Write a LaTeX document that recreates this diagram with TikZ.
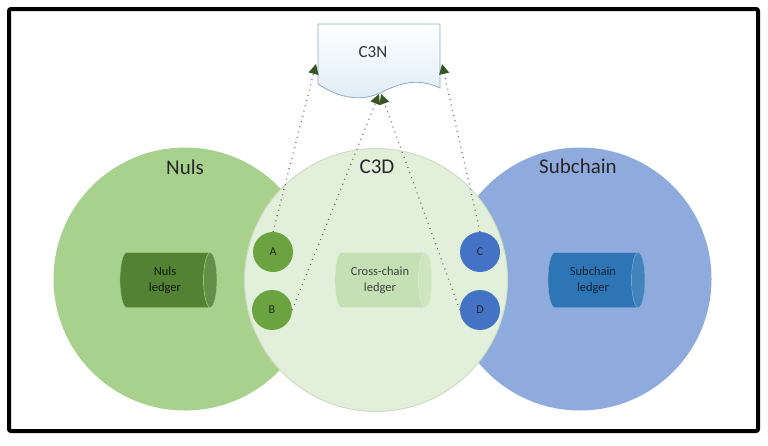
\documentclass[tikz,border=0pt]{standalone}
\usepackage{fontspec}
\setmainfont{Carlito}
\usetikzlibrary{arrows.meta,positioning,shapes.geometric}
\definecolor{nulsgreen}{HTML}{A9D18E}
\definecolor{crossgreen}{HTML}{E2EFDA}
\definecolor{crossedge}{HTML}{CFDDC4}
\definecolor{subblue}{HTML}{8FAADC}
\definecolor{ledgergreen}{HTML}{548235}
\definecolor{ledgerlight}{HTML}{C5E0B4}
\definecolor{ledgerblue}{HTML}{2E75B6}
\definecolor{portgreen}{HTML}{6AA33F}
\definecolor{portblue}{HTML}{4472C4}
\definecolor{tipgreen}{HTML}{375623}
\definecolor{docblue}{HTML}{DDEBF7}
\definecolor{docedge}{HTML}{8EAAC4}
\tikzset{
  chain/.style={circle,minimum size=263pt,inner sep=0pt},
  chainlabel/.style={font=\fontsize{21}{24}\selectfont,text=black!85},
  ledger/.style={cylinder,shape border rotate=0,aspect=0.5,minimum width=55pt,minimum height=97pt,
    cylinder uses custom fill,align=center,inner sep=0pt,font=\fontsize{12.5}{16}\selectfont},
  port/.style={circle,minimum size=40pt,inner sep=0pt,font=\fontsize{12}{13}\selectfont,text=black!85},
  link/.style={gray!85!black,line width=1.3pt,dash pattern=on 0.9pt off 4.5pt,
    -{Triangle[length=10pt,width=10pt,color=tipgreen]}}
}
\begin{document}
\begin{tikzpicture}[x=1pt,y=-1pt]
  \useasboundingbox (0,0) rectangle (768,445);
  \draw[line width=4pt,rounded corners=2pt] (9,9) rectangle (758,431);
  \node[chain,fill=nulsgreen] (nuls) at (185,279) {};
  \node[chain,fill=subblue] (sub) at (580,279) {};
  \node[chain,fill=crossgreen,draw=crossedge,line width=1pt] (c3d) at (376,280) {};
  \node[chainlabel] (nulslab) at (185,167) {Nuls};
  \node[chainlabel] (c3dlab) at (377,167) {C3D};
  \node[chainlabel] (sublab) at (578,166) {Subchain};
  \node[ledger,cylinder body fill=ledgergreen,cylinder end fill=ledgergreen!90!white,draw=nulsgreen,
    text=black!80!ledgergreen] (nulsledger) at (165,280) {Nuls\\ledger};
  \node[ledger,cylinder body fill=ledgerlight,cylinder end fill=ledgerlight!85!white,draw=crossgreen,
    text=black!75] (crossledger) at (380,280) {Cross-chain\\ledger};
  \node[ledger,cylinder body fill=ledgerblue,cylinder end fill=ledgerblue!90!white,draw=subblue,
    text=black!70!ledgerblue] (subledger) at (593,280) {Subchain\\ledger};
  \foreach \n/\x/\y/\c in {A/273/252/portgreen,B/272/310/portgreen,C/480/252/portblue,D/480/310/portblue}
    \node[port,fill=\c] (\n) at (\x,\y) {\n};
  \draw[docedge,line width=0.8pt,top color=white,bottom color=docblue]
    (318,24) -- (440,24) -- (440,88) .. controls (418,78) and (402,82) .. (380,93)
    .. controls (358,103) and (336,96) .. (318,84) -- cycle;
  \node[font=\fontsize{17}{19}\selectfont,text=black!80] (c3n) at (373,52) {C3N};
  \coordinate (inA) at (316,64);
  \coordinate (inC) at (442,64);
  \coordinate (inB) at (379,94);
  \coordinate (inD) at (381,94);
  \draw[link] (A.north) -- (inA);
  \draw[link] (C.north) -- (inC);
  \draw[link] (B.east) -- (inB);
  \draw[link] (D.west) -- (inD);
\end{tikzpicture}
\end{document}
